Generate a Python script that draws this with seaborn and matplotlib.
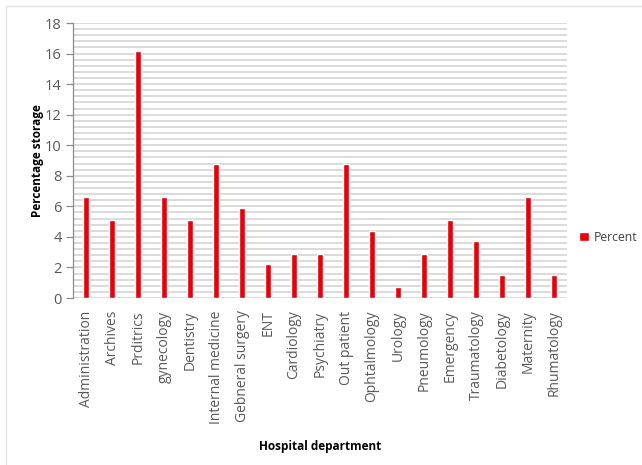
import matplotlib
matplotlib.use("Agg")
import matplotlib.pyplot as plt
from matplotlib.patches import Rectangle
from matplotlib.ticker import MultipleLocator
import seaborn as sns
import pandas as pd

departments = [
    "Administration", "Archives", "Prditrics", "gynecology", "Dentistry",
    "Internal medicine", "Gebneral surgery", "ENT", "Cardiology", "Psychiatry",
    "Out patient", "Ophtalmology", "Urology", "Pneumology", "Emergency",
    "Traumatology", "Diabetology", "Maternity", "Rhumatology",
]
percent = [
    6.6, 5.1, 16.2, 6.6, 5.1,
    8.8, 5.9, 2.2, 2.9, 2.9,
    8.8, 4.4, 0.7, 2.9, 5.1,
    3.7, 1.5, 6.6, 1.5,
]
series_name = "Percent"

df = pd.DataFrame({"department": departments, "value": percent,
                   "series": series_name})

sns.set_theme(style="white")
plt.rcParams["font.family"] = ["Open Sans", "DejaVu Sans"]

W, H = 642, 465
fig = plt.figure(figsize=(W / 100, H / 100), dpi=100)
ax = fig.add_axes([73 / W, 1 - 298 / H, (567 - 73) / W, (298 - 23) / H])

sns.barplot(data=df, x="department", y="value", hue="series",
            palette=["#e8000b"], width=0.2, ax=ax, legend=True,
            saturation=1)

ax.set_ylim(0, 18)
ax.set_xlim(-0.5, len(departments) - 0.5)
ax.yaxis.set_major_locator(MultipleLocator(2))
ax.yaxis.set_minor_locator(MultipleLocator(0.4))
ax.grid(axis="y", which="both", color="#dadada", linewidth=1.4)
ax.set_axisbelow(True)

for side in ["top", "right", "bottom"]:
    ax.spines[side].set_visible(False)
ax.spines["left"].set_color("#8c8c8c")
ax.spines["left"].set_linewidth(0.9)

ax.tick_params(axis="y", which="major", left=True, length=5, width=0.9,
               color="#8c8c8c", labelsize=10.5, labelcolor="#595959", pad=3)
ax.tick_params(axis="y", which="minor", left=False)
ax.tick_params(axis="x", bottom=False, labelsize=10, labelcolor="#595959",
               pad=3)
for lab in ax.get_xticklabels():
    lab.set_rotation(90)

ax.set_ylabel("Percentage storage", fontsize=8.5, fontweight="bold",
              color="black", labelpad=1)
ax.set_xlabel("Hospital department", fontsize=8.5, fontweight="bold",
              color="black")
ax.xaxis.set_label_coords(0.5, -(440 - 298) / (298 - 23))

leg = ax.legend(loc="center left", bbox_to_anchor=(1.025, 0.22),
                frameon=False, fontsize=8.8, handlelength=0.8,
                handleheight=0.8, handletextpad=0.35, borderaxespad=0,
                borderpad=0)
for t in leg.get_texts():
    t.set_color("#404040")

fig.patches.append(Rectangle((6 / W, -0.1), 1.2, 1.1 - 6 / H,
                             transform=fig.transFigure, fill=False,
                             edgecolor="#e3e3e3", linewidth=1.0))

fig.savefig("out.png", dpi=100, facecolor="white")
